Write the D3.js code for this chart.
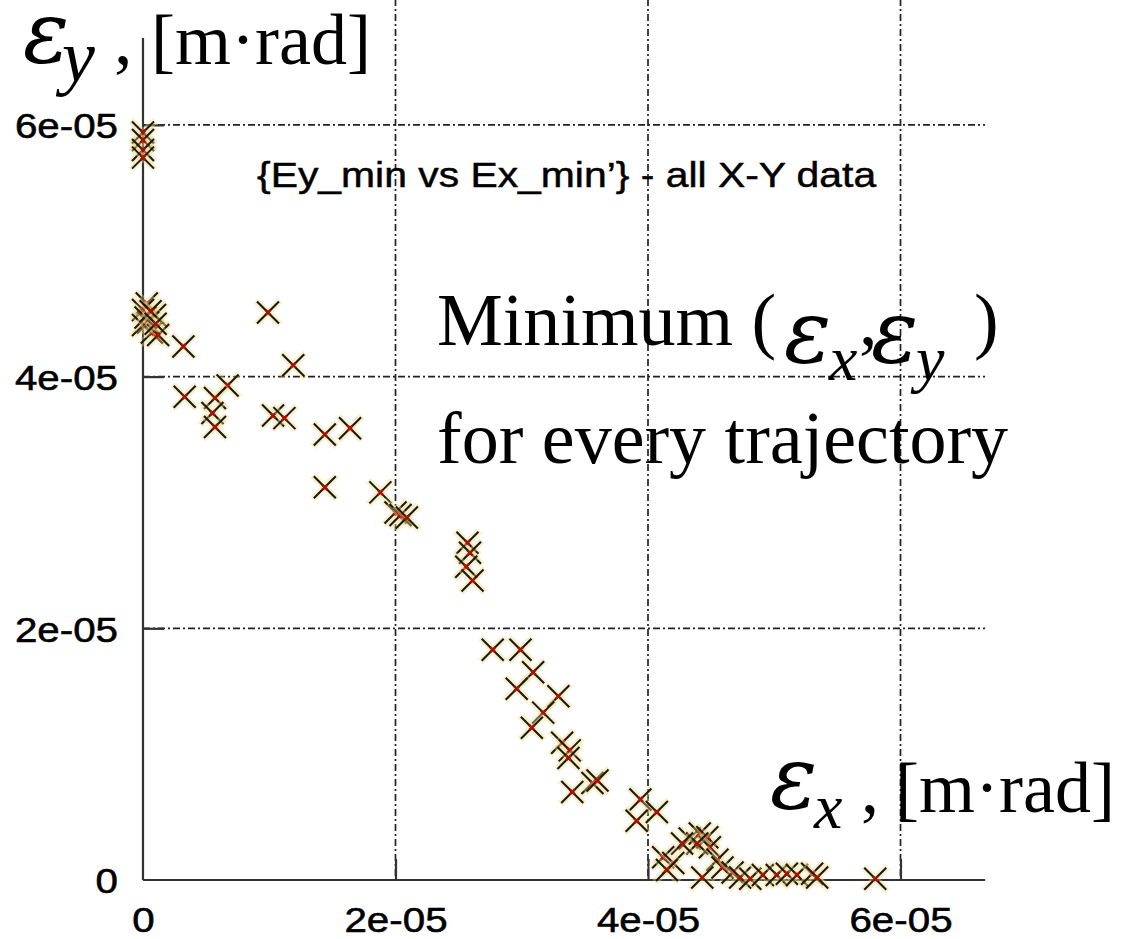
<!DOCTYPE html>
<html>
<head>
<meta charset="utf-8">
<script src="https://cdn.jsdelivr.net/npm/d3@7"></script>
<style>
  html, body { margin: 0; padding: 0; background: #fff; }
  svg { display: block; }
  .sans { font-family: "Liberation Sans", Arial, sans-serif; }
  .serif { font-family: "Liberation Serif", "Times New Roman", serif; }
  .eps { font-family: "DejaVu Serif", "Liberation Serif", serif; font-style: italic; }
  .it { font-style: italic; }
</style>
</head>
<body>
<div id="chart"></div>
<script>
(() => {
  "use strict";

  // Ex_min / Ey_min per trajectory, units of 1e-05 m·rad
  const exMin = [
    0, 0, 0, 0,
    0.03, 0.0, 0.095, 0.04, 0.0, 0.07, 0.12, 0.02, 0.06, 0.10,
    0.99, 0.32, 1.19, 0.33, 0.67, 0.57, 0.55, 0.57, 1.03, 1.12, 1.44, 1.64,
    1.44, 1.88, 2.00, 2.04, 2.09, 2.57, 2.59, 2.56, 2.61,
    2.77, 2.99, 3.09, 2.96, 3.29, 3.17, 3.08, 3.32, 3.38, 3.37, 3.40, 3.56, 3.60,
    3.94, 4.07, 3.91,
    4.33, 4.41, 4.47, 4.49, 4.39, 4.27, 4.12, 4.20, 4.15, 4.55, 4.59, 4.67,
    4.43, 4.73, 4.81, 4.91, 5.02, 5.10, 5.18, 5.30, 5.34, 5.80
  ];
  const eyMin = [
    5.94, 5.88, 5.80, 5.74,
    4.58, 4.53, 4.49, 4.43, 4.41, 4.35, 4.33, 4.47, 4.52, 4.42,
    4.51, 4.24, 4.09, 3.84, 3.93, 3.83, 3.71, 3.60, 3.69, 3.67, 3.54, 3.59,
    3.12, 3.08, 2.92, 2.90, 2.88, 2.68, 2.60, 2.49, 2.38,
    1.83, 1.83, 1.65, 1.52, 1.46, 1.33, 1.21, 1.09, 1.03, 0.97, 0.70, 0.77, 0.79,
    0.64, 0.54, 0.47,
    0.33, 0.37, 0.34, 0.26, 0.29, 0.29, 0.18, 0.135, 0.08, 0.16, 0.10, 0.06,
    0.02, 0.02, 0.01, 0.04, 0.04, 0.05, 0.04, 0.05, 0.02, 0.01
  ];
  const SCALE = 1e-05;

  const tickValues = [0, 2e-05, 4e-05, 6e-05];
  const tickLabels = ["0", "2e-05", "4e-05", "6e-05"];
  const gridValues = [2e-05, 4e-05, 6e-05];
  const titleText = "{Ey_min vs Ex_min\u2019} - all X-Y data";

  const W = 1132, H = 939;
  const X0 = 143, Y0 = 880;
  const PX_PER_UNIT_X = 252.5 / 2e-05;
  const PX_PER_UNIT_Y = 251.7 / 2e-05;
  const SANS_STRETCH = 1.12;

  const xMaxAxis = 6.67e-05, yMaxAxis = 6.69e-05, yMaxGrid = 7e-05;

  const x = d3.scaleLinear().domain([0, 7e-05]).range([X0, X0 + 7e-05 * PX_PER_UNIT_X]);
  const y = d3.scaleLinear().domain([0, 7e-05]).range([Y0, Y0 - 7e-05 * PX_PER_UNIT_Y]);

  const points = exMin.map((v, i) => ({ ex: v * SCALE, ey: eyMin[i] * SCALE }));

  const svg = d3.select("#chart").append("svg")
    .attr("width", W).attr("height", H)
    .attr("viewBox", `0 0 ${W} ${H}`);
  svg.append("rect").attr("width", W).attr("height", H).attr("fill", "#fff");

  // grid (dash-dot)
  const grid = svg.append("g").attr("stroke", "#222").attr("stroke-width", 1.7)
    .attr("stroke-dasharray", "7,3,2,3");
  grid.selectAll("line.vg").data(gridValues).join("line").attr("class", "vg")
    .attr("x1", d => x(d)).attr("x2", d => x(d))
    .attr("y1", y(yMaxGrid)).attr("y2", Y0);
  grid.selectAll("line.hg").data(gridValues).join("line").attr("class", "hg")
    .attr("x1", X0).attr("x2", x(xMaxAxis))
    .attr("y1", d => y(d)).attr("y2", d => y(d));

  // axes: ticks inward, own axis lines
  const yAxis = d3.axisLeft(y).tickValues(tickValues).tickSizeInner(-21).tickSizeOuter(0)
    .tickFormat((d, i) => tickLabels[i]);
  const xAxis = d3.axisBottom(x).tickValues(tickValues).tickSizeInner(-21).tickSizeOuter(0)
    .tickFormat((d, i) => tickLabels[i]);

  const gy = svg.append("g").attr("transform", `translate(${X0},0)`).call(yAxis);
  const gx = svg.append("g").attr("transform", `translate(0,${Y0})`).call(xAxis);
  [gx, gy].forEach(g => {
    g.select(".domain").remove();
    g.selectAll(".tick line").attr("stroke", "#333").attr("stroke-width", 2.2);
    g.selectAll(".tick text")
      .attr("class", "sans")
      .attr("font-size", 36)
      .attr("fill", "#000")
      .attr("stroke", "#000").attr("stroke-width", 0.6)
      .attr("transform", `scale(${SANS_STRETCH},1)`);
  });
  gy.selectAll(".tick text").attr("x", -25 / SANS_STRETCH).attr("dy", "0.36em");
  gx.selectAll(".tick text").attr("y", 52).attr("dy", 0);
  gy.selectAll(".tick").filter(d => d === 0).select("line").remove();
  gx.selectAll(".tick").filter(d => d === 0).select("line").remove();

  svg.append("line").attr("x1", X0).attr("x2", X0)
    .attr("y1", y(yMaxAxis)).attr("y2", Y0)
    .attr("stroke", "#333").attr("stroke-width", 2.2);
  svg.append("line").attr("x1", X0).attr("x2", x(xMaxAxis))
    .attr("y1", Y0).attr("y2", Y0)
    .attr("stroke", "#333").attr("stroke-width", 2.2);

  // markers
  const R = 11, r = 2.5;
  const cross = s => `M${-s},${-s}L${s},${s}M${-s},${s}L${s},${-s}`;
  const marks = svg.append("g").selectAll("g.pt").data(points).join("g")
    .attr("class", "pt")
    .attr("transform", d => `translate(${x(d.ex)},${y(d.ey)})`);
  marks.append("path").attr("d", cross(R + 1)).attr("fill", "none")
    .attr("stroke", "#f1d98a").attr("stroke-width", 7).attr("stroke-opacity", 0.4);
  marks.append("path").attr("d", cross(R)).attr("fill", "none")
    .attr("stroke", "#1a1a10").attr("stroke-width", 2.1);
  marks.append("path").attr("d", cross(r)).attr("fill", "none")
    .attr("stroke", "#a81200").attr("stroke-width", 2.4);

  // inner title
  svg.append("text").attr("class", "sans")
    .attr("transform", `translate(257,187) scale(1.135,1)`)
    .attr("font-size", 36).attr("fill", "#000")
    .attr("stroke", "#000").attr("stroke-width", 0.5)
    .text(titleText);

  // y axis label: εy , [m·rad]
  const yl = svg.append("text").attr("class", "serif").attr("fill", "#000").attr("font-size", 74);
  yl.append("tspan").attr("class", "eps").attr("font-size", 86).attr("x", 23).attr("y", 62).text("\u03B5");
  yl.append("tspan").attr("class", "it").attr("x", 62).attr("y", 81).text("y");
  yl.append("tspan").attr("x", 114).attr("y", 64).text(",");
  yl.append("tspan").attr("x", 151).attr("y", 64).attr("font-size", 72).text("[m\u00B7rad]");

  // x axis label: εx , [m·rad]
  const xl = svg.append("text").attr("class", "serif").attr("fill", "#000").attr("font-size", 72);
  xl.append("tspan").attr("class", "eps").attr("font-size", 88).attr("x", 770).attr("y", 808).text("\u03B5");
  xl.append("tspan").attr("class", "it").attr("font-size", 64).attr("x", 814).attr("y", 828).text("x");
  xl.append("tspan").attr("x", 861).attr("y", 812).text(",");
  xl.append("tspan").attr("x", 895).attr("y", 812).text("[m\u00B7rad]");

  // annotation
  const ann = svg.append("text").attr("class", "serif").attr("fill", "#000").attr("font-size", 74);
  ann.append("tspan").attr("x", 437).attr("y", 345).text("Minimum (");
  ann.append("tspan").attr("class", "eps").attr("font-size", 88).attr("x", 784).attr("y", 362).text("\u03B5");
  ann.append("tspan").attr("class", "it").attr("font-size", 64).attr("x", 829).attr("y", 380).text("x");
  ann.append("tspan").attr("x", 859).attr("y", 345).text(",");
  ann.append("tspan").attr("class", "eps").attr("font-size", 88).attr("x", 871).attr("y", 362).text("\u03B5");
  ann.append("tspan").attr("class", "it").attr("font-size", 64).attr("x", 916).attr("y", 380).text("y");
  ann.append("tspan").attr("x", 974).attr("y", 345).text(")");

  svg.append("text").attr("class", "serif").attr("fill", "#000")
    .attr("x", 437).attr("y", 463).attr("font-size", 74)
    .text("for every trajectory");
})();
</script>
</body>
</html>
